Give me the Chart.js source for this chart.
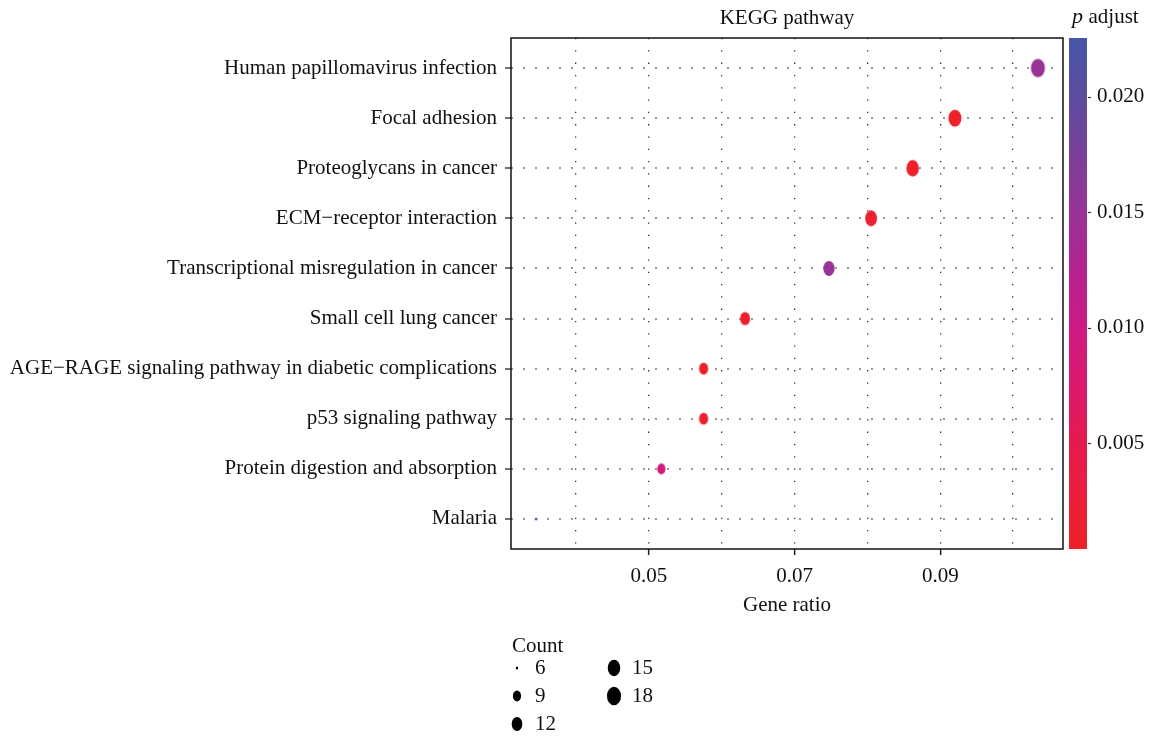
<!DOCTYPE html>
<html>
<head>
<meta charset="utf-8">
<title>KEGG pathway</title>
<script src="https://cdn.jsdelivr.net/npm/chart.js@4.4.1/dist/chart.umd.min.js"></script>
<style>
  html, body { margin: 0; padding: 0; background: #fff; }
  #wrap { width: 1151px; height: 742px; position: relative; }
</style>
</head>
<body>
<div id="wrap"><canvas id="kegg-chart"></canvas></div>
<script>
// Enriched KEGG pathways, top row first
const pathways = [
  'Human papillomavirus infection',
  'Focal adhesion',
  'Proteoglycans in cancer',
  'ECM\u2212receptor interaction',
  'Transcriptional misregulation in cancer',
  'Small cell lung cancer',
  'AGE\u2212RAGE signaling pathway in diabetic complications',
  'p53 signaling pathway',
  'Protein digestion and absorption',
  'Malaria'
];
const geneRatio = [0.1034, 0.0920, 0.0862, 0.0805, 0.0747, 0.0632, 0.0575, 0.0575, 0.0517, 0.0345];
const counts = [18, 16, 15, 14, 13, 11, 10, 10, 9, 6];
const pAdjust = [0.0148, 0.0005, 0.0008, 0.0015, 0.0152, 0.0009, 0.0007, 0.0010, 0.0088, 0.02255];

// Axis ticks
const ratioGrid = [0.04, 0.05, 0.06, 0.07, 0.08, 0.09, 0.10];
const ratioTicks = [0.05, 0.07, 0.09];
const pTicks = [0.005, 0.010, 0.015, 0.020];
const legendCounts = [6, 9, 12, 15, 18];

// Colour scale for p adjust (low = red, high = blue)
const pRange = [0.00041, 0.02255];
const colorStopValues = [0.00041, 0.005, 0.0075, 0.010, 0.0125, 0.015, 0.020, 0.02255];
const colorStopHex = ['#EE2126', '#E51B4E', '#DC196E', '#CE1A83', '#B4238F', '#983397', '#5C4C9E', '#4655A5'];

const FONT = '"Liberation Serif", "DejaVu Serif", serif';
const FONT_SIZE = 21;

function hexToRgb(hex) {
  return [1, 3, 5].map(i => parseInt(hex.slice(i, i + 2), 16));
}

function pColor(p) {
  const v = colorStopValues;
  let i = 0;
  while (i < v.length - 2 && p > v[i + 1]) i++;
  const t = Math.max(0, Math.min(1, (p - v[i]) / (v[i + 1] - v[i])));
  const a = hexToRgb(colorStopHex[i]);
  const b = hexToRgb(colorStopHex[i + 1]);
  const c = a.map((x, k) => Math.round(x + (b[k] - x) * t));
  return `rgb(${c[0]}, ${c[1]}, ${c[2]})`;
}

// Size scale: area grows with count, 6 -> 1, 18 -> 6
const countRange = [Math.min(...legendCounts), Math.max(...legendCounts)];
function countSize(n) {
  const t = (n - countRange[0]) / (countRange[1] - countRange[0]);
  return 1 + 5 * Math.sqrt(Math.max(0, t));
}

// Dots are slightly taller than wide
function ellipseDims(n) {
  const s = countSize(n);
  return { w: 2.35 * s, h: 3.1 * s };
}

function ellipseImage(n, color) {
  const { w, h } = ellipseDims(n);
  const c = document.createElement('canvas');
  c.width = Math.ceil(w) + 2;
  c.height = Math.ceil(h) + 2;
  const g = c.getContext('2d');
  g.fillStyle = color;
  g.beginPath();
  g.ellipse(c.width / 2, c.height / 2, w / 2, h / 2, 0, 0, Math.PI * 2);
  g.fill();
  return c;
}

function inList(list, v) {
  return list.some(x => Math.abs(x - v) < 1e-9);
}

const ratioMin = Math.min(...geneRatio);
const ratioMax = Math.max(...geneRatio);
const ratioPad = (ratioMax - ratioMin) * 0.05;

const points = geneRatio.map((r, i) => ({ x: r, y: i }));
const pointImages = counts.map((n, i) => ellipseImage(n, pColor(pAdjust[i])));

// Panel box and titles, colour bar and size legend
const decorations = {
  id: 'decorations',
  afterDraw(chart) {
    const { ctx, chartArea: a } = chart;
    ctx.save();
    ctx.strokeStyle = '#111';
    ctx.lineWidth = 1.5;
    ctx.strokeRect(a.left, a.top, a.right - a.left, a.bottom - a.top);

    ctx.fillStyle = '#111';
    ctx.textBaseline = 'middle';
    ctx.textAlign = 'center';
    ctx.font = `${FONT_SIZE}px ${FONT}`;
    ctx.fillText('KEGG pathway', (a.left + a.right) / 2, 18);

    // colour bar
    const sc = chart.scales.pc;
    const barLeft = a.right + 6;
    const barW = 18;
    const yTop = sc.getPixelForValue(pRange[1]);
    const yBot = sc.getPixelForValue(pRange[0]);
    const grad = ctx.createLinearGradient(0, yBot, 0, yTop);
    colorStopValues.forEach((v, i) => {
      grad.addColorStop((v - pRange[0]) / (pRange[1] - pRange[0]), colorStopHex[i]);
    });
    ctx.fillStyle = grad;
    ctx.fillRect(barLeft, yTop, barW, yBot - yTop);
    ctx.strokeStyle = '#333';
    ctx.lineWidth = 1.2;
    pTicks.forEach(v => {
      const y = Math.round(sc.getPixelForValue(v)) + 0.5;
      ctx.beginPath();
      ctx.moveTo(barLeft + barW + 1, y);
      ctx.lineTo(barLeft + barW + 4, y);
      ctx.stroke();
    });

    // colour bar title: italic p, then "adjust"
    ctx.fillStyle = '#111';
    ctx.textAlign = 'left';
    ctx.font = `italic ${FONT_SIZE + 1}px ${FONT}`;
    const px = 1072;
    ctx.fillText('p', px, 17);
    const pw = ctx.measureText('p ').width;
    ctx.font = `${FONT_SIZE}px ${FONT}`;
    ctx.fillText('adjust', px + pw, 17);

    // size legend
    ctx.fillText('Count', 512, 646);
    const slots = [
      [517, 668], [517, 696], [517, 724],
      [614, 668], [614, 696]
    ];
    legendCounts.forEach((n, i) => {
      const [cx, cy] = slots[i];
      const { w, h } = ellipseDims(n);
      ctx.fillStyle = '#000';
      ctx.beginPath();
      ctx.ellipse(cx, cy, w / 2, h / 2, 0, 0, Math.PI * 2);
      ctx.fill();
      ctx.fillStyle = '#111';
      ctx.fillText(String(n), cx + 18, cy);
    });
    ctx.restore();
  }
};

Chart.defaults.font.family = FONT;
Chart.defaults.font.size = FONT_SIZE;
Chart.defaults.color = '#111';

new Chart(document.getElementById('kegg-chart').getContext('2d'), {
  type: 'scatter',
  data: {
    datasets: [{
      label: 'Count',
      data: points,
      pointStyle: pointImages,
      pointRadius: 6
    }]
  },
  options: {
    responsive: true,
    maintainAspectRatio: false,
    animation: false,
    events: [],
    layout: { padding: { top: 38, right: 0, bottom: 122, left: 0 } },
    plugins: {
      legend: { display: false },
      tooltip: { enabled: false },
      title: { display: false }
    },
    scales: {
      x: {
        type: 'linear',
        min: ratioMin - ratioPad,
        max: ratioMax + ratioPad,
        afterBuildTicks: (scale) => { scale.ticks = ratioGrid.map(v => ({ value: v })); },
        afterFit: (scale) => { scale.height = 71; },
        grid: {
          color: '#333',
          lineWidth: 1.3,
          tickLength: 6,
          tickWidth: 1.5,
          tickColor: (ctx) => inList(ratioTicks, ctx.tick.value) ? '#222' : 'rgba(0,0,0,0)'
        },
        border: { display: false, dash: [1.3, 11] },
        ticks: {
          autoSkip: false,
          maxRotation: 0,
          padding: 9,
          color: '#111',
          callback: (v) => inList(ratioTicks, v) ? v.toFixed(2) : ''
        },
        title: {
          display: true,
          text: 'Gene ratio',
          color: '#111',
          font: { size: FONT_SIZE },
          padding: { top: 4, bottom: 2 }
        }
      },
      y: {
        type: 'linear',
        reverse: true,
        min: -0.6,
        max: pathways.length - 0.4,
        afterBuildTicks: (scale) => { scale.ticks = pathways.map((_, i) => ({ value: i })); },
        afterFit: (scale) => { scale.width = 511; },
        grid: {
          color: '#999',
          lineWidth: 2,
          tickLength: 6,
          tickWidth: 1.5,
          tickColor: '#444'
        },
        border: { display: false, dash: [2, 10] },
        ticks: {
          autoSkip: false,
          padding: 8,
          color: '#111',
          callback: (v) => pathways[v]
        }
      },
      pc: {
        type: 'linear',
        position: 'right',
        min: pRange[0],
        max: pRange[1],
        afterBuildTicks: (scale) => { scale.ticks = pTicks.map(v => ({ value: v })); },
        afterFit: (scale) => { scale.width = 88; },
        // tick marks are hidden; their length only moves the labels past the bar
        grid: {
          display: true,
          drawOnChartArea: false,
          drawTicks: true,
          tickLength: 30,
          tickColor: 'rgba(0,0,0,0)'
        },
        border: { display: false },
        ticks: {
          padding: 4,
          color: '#111',
          callback: (v) => v.toFixed(3)
        }
      }
    }
  },
  plugins: [decorations]
});
</script>
</body>
</html>
